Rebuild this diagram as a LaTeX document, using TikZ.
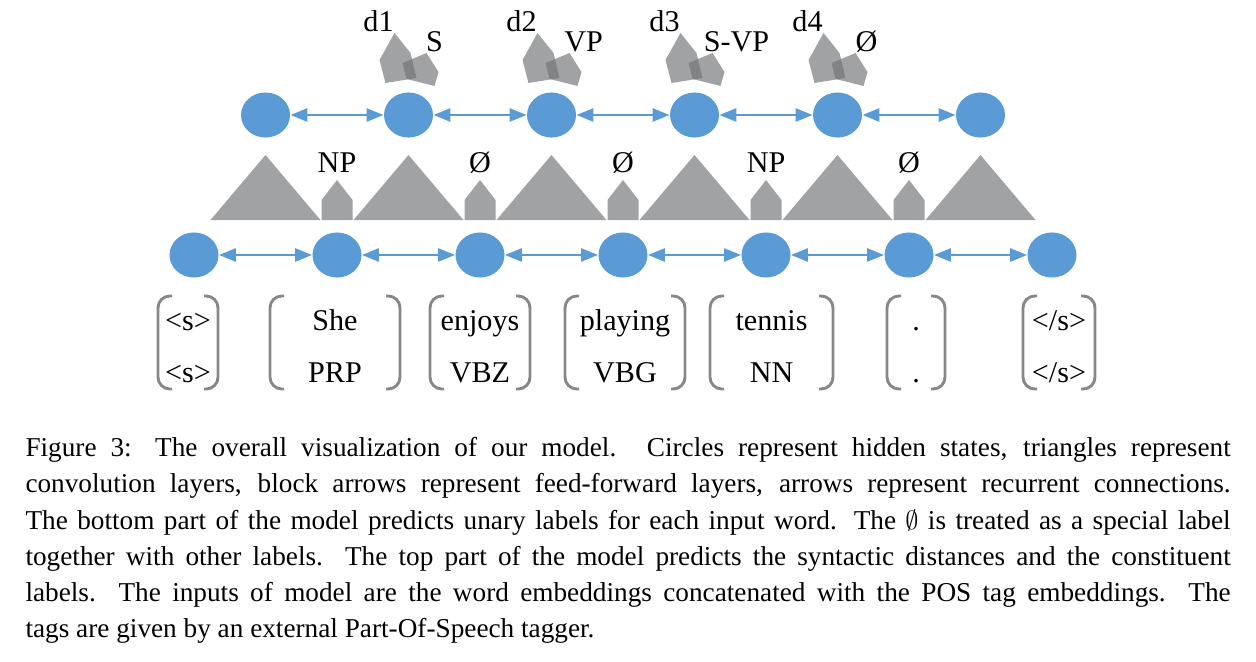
\documentclass[tikz,border=0pt]{standalone}
\usepackage{fontspec}
\setmainfont{Liberation Serif}
\usetikzlibrary{arrows.meta,shapes.geometric}
\definecolor{Hid}{HTML}{5B9BD5}
\definecolor{Conv}{HTML}{A0A2A4}
\definecolor{Ffwd}{HTML}{707274}
\definecolor{Brk}{HTML}{878787}
\tikzset{
  state/.style={ellipse,fill=Hid,minimum width=18.7pt,minimum height=17.2pt,inner sep=0pt},
  rec/.style={{Triangle[length=6.4pt,width=5pt]}-{Triangle[length=6.4pt,width=5pt]},draw=Hid,line width=0.8pt},
  lab/.style={font=\fontsize{11.5}{13}\selectfont,inner sep=0pt,anchor=base},
  brk/.style={draw=Brk,line width=1.1pt,rounded corners=4.5pt},
}

\begin{document}
\begin{tikzpicture}[x=0.38168pt,y=-0.38168pt]
\useasboundingbox (0,0) rectangle (1256,661);
% hidden states, bottom and top
\foreach \i in {0,...,6}
  \node[state] (b\i) at (194+143*\i,255) {};
\foreach \i in {0,...,5}
  \node[state] (h\i) at (265.5+143*\i,115) {};
% recurrent connections
\foreach \i [count=\j] in {0,...,5} {
  \draw[rec] (b\i) -- (b\j);
  \ifnum\i<5 \draw[rec] (h\i) -- (h\j); \fi
}
% convolution layers
\foreach \i in {0,...,5}
  \fill[Conv,shift={({265.5+143*\i},0)}] (-55,220) -- (0,155) -- (55,220) -- cycle;
% unary label blocks
\foreach \l [count=\i] in {NP,\O,\O,NP,\O} {
  \fill[Conv,shift={({194+143*\i},0)}] (-15.5,220) -- (-15.5,200) -- (0,180) -- (15.5,200) -- (15.5,220) -- cycle;
  \node[lab] (u\i) at ({194+143*\i},172) {\l};
}
% distance and constituent label blocks
\foreach \i/\d/\l/\o in {1/d1/S/26,2/d2/VP/32,3/d3/S-VP/42,4/d4/\O/29} {
  \begin{scope}[shift={({265.5+143*\i},0)}]
    \fill[Ffwd,fill opacity=0.66] (-23,83) -- (-29,60) -- (-14,33) -- (2,53) -- (8,78) -- cycle;
    \fill[Ffwd,fill opacity=0.66] (-2,79) -- (-6,63) -- (18,53) -- (30,72) -- (26,86) -- cycle;
  \end{scope}
  \node[lab] (d\i) at ({265.5+143*\i-30},31) {\d};
  \node[lab] (c\i) at ({265.5+143*\i+\o},51) {\l};
}
% inputs: word and POS tag
\foreach \c/\h/\wrd/\tg [count=\i from 0] in {188/30/{<s>}/{<s>},335/65/She/PRP,480/50/enjoys/VBZ,625/60/playing/VBG,771.5/61.5/tennis/NN,916/29/./.,1059/36/{</s>}/{</s>}} {
  \draw[brk] ({\c-\h+14},296) -- ({\c-\h},296) -- ({\c-\h},389) -- ({\c-\h+14},389);
  \draw[brk] ({\c+\h-14},296) -- ({\c+\h},296) -- ({\c+\h},389) -- ({\c+\h-14},389);
  \node[lab] (w\i) at (\c,330) {\wrd};
  \node[lab] (t\i) at (\c,382) {\tg};
}
% caption
\node[anchor=north west,inner sep=0pt,text width=460pt,align=justify,font=\fontsize{10.4}{13.8}\selectfont] (cap) at (25,437)
{Figure 3: The overall visualization of our model. Circles represent hidden states, triangles represent\linebreak
convolution layers, block arrows represent feed-forward layers, arrows represent recurrent connections.\linebreak
The bottom part of the model predicts unary labels for each input word. The $\emptyset$ is treated as a special label\linebreak
together with other labels. The top part of the model predicts the syntactic distances and the constituent\linebreak
labels. The inputs of model are the word embeddings concatenated with the POS tag embeddings. The\linebreak
tags are given by an external Part-Of-Speech tagger.};
\end{tikzpicture}
\end{document}
